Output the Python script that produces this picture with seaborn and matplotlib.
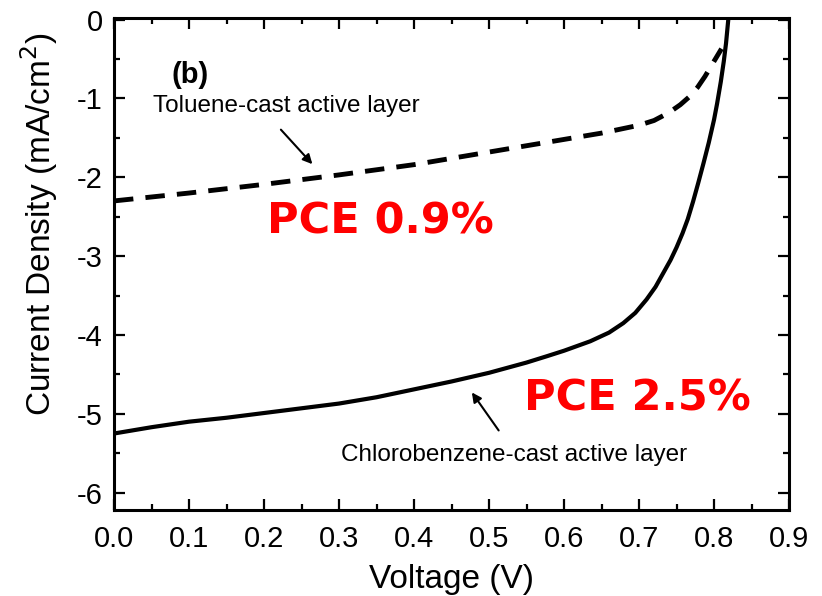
import matplotlib
matplotlib.use("Agg")
import matplotlib.pyplot as plt
import seaborn as sns
import pandas as pd
from matplotlib.ticker import MultipleLocator

sns.set_theme(style="ticks")
plt.rcParams["font.family"] = ["Liberation Sans", "DejaVu Sans"]
plt.rcParams["text.color"] = "black"
plt.rcParams["axes.labelcolor"] = "black"

# J-V curves
v_cb = [0.0, 0.05, 0.1, 0.15, 0.2, 0.25, 0.3, 0.35, 0.4, 0.45, 0.5, 0.55, 0.577,
        0.6, 0.635, 0.66, 0.679, 0.695, 0.71, 0.722, 0.732, 0.742, 0.75, 0.758,
        0.765, 0.772, 0.779, 0.786, 0.793, 0.8, 0.804, 0.809, 0.813, 0.816, 0.819]
j_cb = [-5.25, -5.17, -5.10, -5.05, -4.99, -4.93, -4.87, -4.79, -4.69, -4.59,
        -4.48, -4.35, -4.27, -4.20, -4.08, -3.97, -3.85, -3.72, -3.55, -3.39,
        -3.22, -3.05, -2.89, -2.71, -2.53, -2.31, -2.07, -1.82, -1.56, -1.27,
        -1.07, -0.79, -0.53, -0.30, 0.0]

v_tol = [0.0, 0.1, 0.2, 0.3, 0.4, 0.5, 0.6, 0.65, 0.7, 0.72, 0.74, 0.755, 0.767,
         0.778, 0.788, 0.798, 0.81]
j_tol = [-2.30, -2.20, -2.09, -1.97, -1.84, -1.68, -1.52, -1.44, -1.34, -1.28,
         -1.18, -1.08, -0.98, -0.86, -0.72, -0.56, -0.37]

x_ticks = [0.0, 0.1, 0.2, 0.3, 0.4, 0.5, 0.6, 0.7, 0.8, 0.9]
y_ticks = [0, -1, -2, -3, -4, -5, -6]

cb = pd.DataFrame({"V": v_cb, "J": j_cb})
tol = pd.DataFrame({"V": v_tol, "J": j_tol})

fig = plt.figure(figsize=(8.22, 5.96), dpi=100)
ax = fig.add_axes([0.1387, 0.1443, 0.8212, 0.8255])

sns.lineplot(data=cb, x="V", y="J", ax=ax, color="black", linewidth=3)
sns.lineplot(data=tol, x="V", y="J", ax=ax, color="black", linewidth=3.5)
ax.lines[1].set_dashes((4, 2.5))

ax.set_xlim(0, 0.9)
ax.set_ylim(-6.22, 0.02)
ax.set_xticks(x_ticks)
ax.set_xticklabels([f"{t:.1f}" for t in x_ticks])
ax.set_yticks(y_ticks)
ax.set_yticklabels([str(t) for t in y_ticks])
ax.xaxis.set_minor_locator(MultipleLocator(0.05))
ax.yaxis.set_minor_locator(MultipleLocator(0.5))

ax.tick_params(which="both", direction="in", top=True, right=True, width=1.6,
               colors="black")
ax.tick_params(which="major", length=8, labelsize=21, pad=8)
ax.tick_params(axis="x", which="major", pad=11)
ax.tick_params(which="minor", length=4.5)
for s in ax.spines.values():
    s.set_linewidth(2.2)
    s.set_color("black")

ax.set_xlabel("Voltage (V)", fontsize=24, labelpad=8)
ax.set_ylabel("Current Density (mA/cm$^2$)", fontsize=24)
ax.yaxis.set_label_coords(-0.08, 0.58)

# annotations
ax.text(0.077, -0.70, "(b)", fontsize=21, fontweight="bold", ha="left", va="center")
ax.text(0.23, -1.10, "Toluene-cast active layer", fontsize=17.5, ha="center", va="center")
ax.annotate("", xy=(0.267, -1.86), xytext=(0.22, -1.37),
            arrowprops=dict(arrowstyle="-|>", color="black", lw=1.5, mutation_scale=14))
ax.text(0.533, -5.52, "Chlorobenzene-cast active layer", fontsize=17.5,
        ha="center", va="center")
ax.annotate("", xy=(0.475, -4.70), xytext=(0.515, -5.24),
            arrowprops=dict(arrowstyle="-|>", color="black", lw=1.5, mutation_scale=14))

ax.text(0.355, -2.56, "PCE 0.9%", fontsize=31, fontweight="bold", color="#ff0000",
        family="DejaVu Sans", ha="center", va="center")
ax.text(0.698, -4.80, "PCE 2.5%", fontsize=31, fontweight="bold", color="#ff0000",
        family="DejaVu Sans", ha="center", va="center")

fig.savefig("out.png", dpi=100)
